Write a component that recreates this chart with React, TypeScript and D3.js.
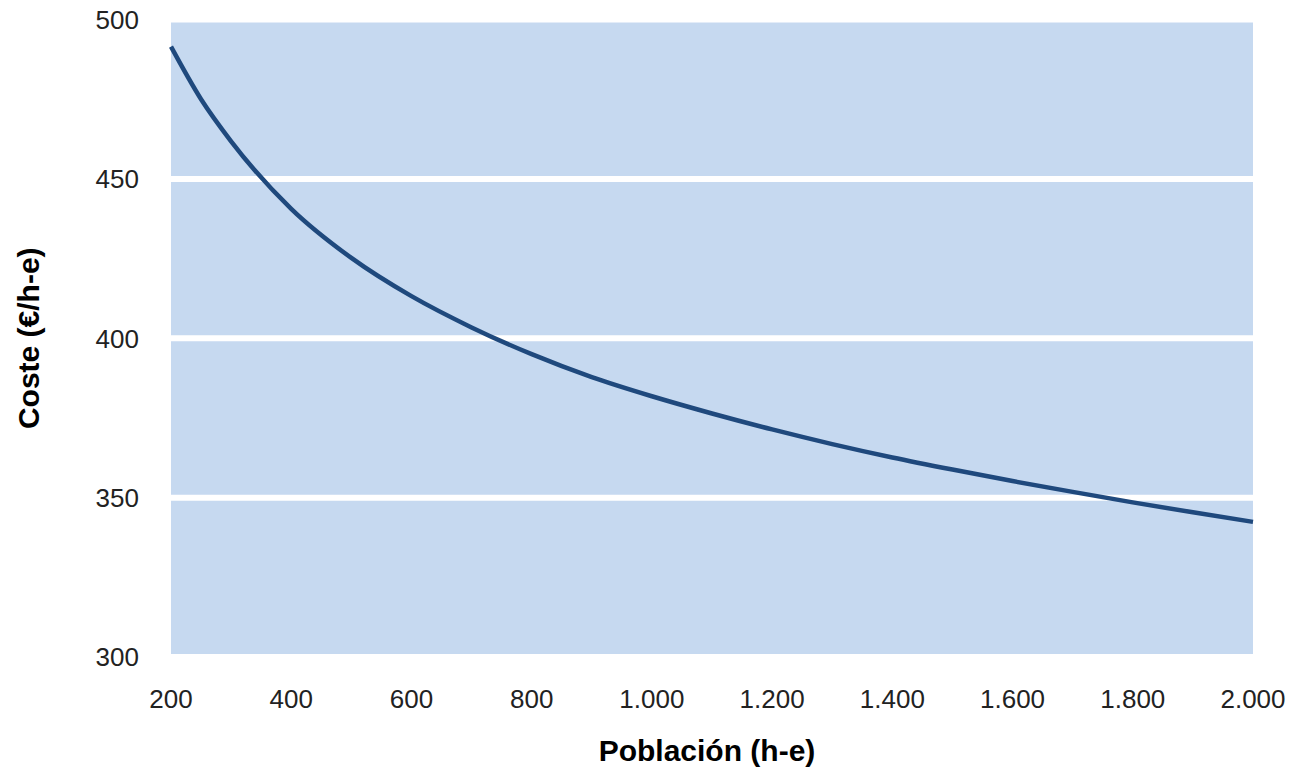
import React from "react";
import * as d3 from "d3";

const poblacion = [200, 250, 300, 400, 500, 600, 700, 800, 900, 1000, 1100, 1200, 1300, 1400, 1500, 1600, 1700, 1800, 1900, 2000];
const coste = [491.5, 475.0, 461.8, 440.6, 425.2, 413.2, 403.4, 395.0, 387.8, 381.8, 376.4, 371.4, 366.8, 362.6, 358.8, 355.2, 351.8, 348.5, 345.4, 342.4];
const xTicks = [200, 400, 600, 800, 1000, 1200, 1400, 1600, 1800, 2000];
const yTicks = [300, 350, 400, 450, 500];
const xTitle = "Población (h-e)";
const yTitle = "Coste (€/h-e)";

const W = 1290;
const H = 767;
const left = 171;
const right = 1253;
const top = 19.5;
const bottom = 657;

const fmt = (v: number) => {
  const s = String(v);
  return s.length > 3 ? s.slice(0, s.length - 3) + "." + s.slice(s.length - 3) : s;
};

export default function App() {
  const x = d3.scaleLinear().domain([200, 2000]).range([left, right]);
  const y = d3.scaleLinear().domain([300, 500]).range([bottom, top]);
  const data = poblacion.map((p, i) => [p, coste[i]] as [number, number]);
  const line = d3
    .line<[number, number]>()
    .x((d) => x(d[0]))
    .y((d) => y(d[1]))
    .curve(d3.curveMonotoneX);
  const font = "'Liberation Sans', Arial, sans-serif";
  return (
    <svg
      width={W}
      height={H}
      style={{ position: "absolute", left: 0, top: 0, display: "block", background: "#fff" }}
    >
      <rect x={left} y={top} width={right - left} height={bottom - top} fill="#C6D9F0" />
      {yTicks.map((t) => (
        <line key={"g" + t} x1={left} x2={right} y1={y(t)} y2={y(t)} stroke="#fff" strokeWidth={6} />
      ))}
      <path d={line(data) || ""} fill="none" stroke="#1F497D" strokeWidth={4.5} strokeLinejoin="round" />
      {yTicks.map((t) => (
        <text
          key={"y" + t}
          x={139}
          y={y(t)}
          dy="0.36em"
          textAnchor="end"
          fontFamily={font}
          fontSize={26}
          fill="#222"
        >
          {fmt(t)}
        </text>
      ))}
      {xTicks.map((t) => (
        <text
          key={"x" + t}
          x={x(t)}
          y={708}
          textAnchor="middle"
          fontFamily={font}
          fontSize={26}
          fill="#222"
        >
          {fmt(t)}
        </text>
      ))}
      <text
        x={707}
        y={761}
        textAnchor="middle"
        fontFamily={font}
        fontSize={30}
        fontWeight="bold"
        fill="#000"
      >
        {xTitle}
      </text>
      <text
        transform={`translate(39, ${(top + bottom) / 2}) rotate(-90)`}
        textAnchor="middle"
        fontFamily={font}
        fontSize={30}
        fontWeight="bold"
        fill="#000"
      >
        {yTitle}
      </text>
    </svg>
  );
}
